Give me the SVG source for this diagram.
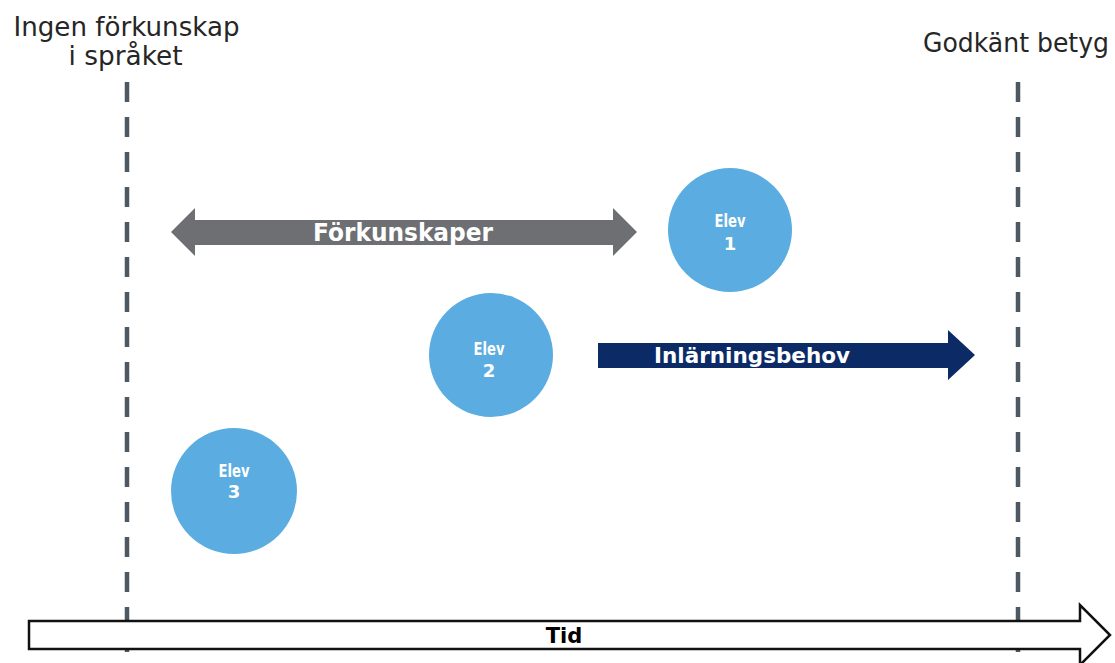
<svg xmlns="http://www.w3.org/2000/svg" width="1115" height="663" viewBox="0 0 1115 663">
<style>
.lbl{font-family:"DejaVu Sans","Liberation Sans",sans-serif;font-size:26px;fill:#262626}
.bold{font-family:"DejaVu Sans","Liberation Sans",sans-serif;font-weight:bold}
.circ{fill:#5badE1}
.elev{font-size:18px;fill:#ffffff}
.dash{stroke:#4e5862;stroke-width:4.5;stroke-dasharray:20 15;fill:none}
</style>
<rect width="1115" height="663" fill="#ffffff"/>
<g id="guides">
<line class="dash" x1="127" y1="82" x2="127" y2="652"/>
<line class="dash" x1="1018" y1="82" x2="1018" y2="652"/>
</g>
<g id="label-start">
<text class="lbl" x="126.5" y="36" text-anchor="middle" textLength="226" lengthAdjust="spacingAndGlyphs">Ingen förkunskap</text>
<text class="lbl" x="125.5" y="65" text-anchor="middle" textLength="114" lengthAdjust="spacingAndGlyphs">i språket</text>
</g>
<g id="label-end">
<text class="lbl" x="1016" y="52" text-anchor="middle" textLength="186" lengthAdjust="spacingAndGlyphs">Godkänt betyg</text>
</g>
<g id="connectors">
<g id="forkunskaper">
<polygon points="171,232 195,208 195,220 613,220 613,208 637,232 613,256 613,245 195,245 195,256" fill="#6d6f72"/>
<text class="bold" x="403" y="241" text-anchor="middle" font-size="24" fill="#ffffff" textLength="180" lengthAdjust="spacingAndGlyphs">Förkunskaper</text>
</g>
<g id="inlarningsbehov">
<polygon points="598,343 948,343 948,330 975,355 948,380 948,368 598,368" fill="#0b2a66"/>
<text class="bold" x="752" y="363" text-anchor="middle" font-size="21" fill="#ffffff" textLength="196" lengthAdjust="spacingAndGlyphs">Inlärningsbehov</text>
</g>
<g id="tid">
<polygon points="29,621 1080,621 1080,605 1110,635 1080,665 1080,649 29,649" fill="#ffffff" stroke="#111111" stroke-width="2.5"/>
<text class="bold" x="564" y="643" text-anchor="middle" font-size="21" fill="#000000">Tid</text>
</g>
</g>
<g id="elev1">
<circle class="circ" cx="730" cy="230" r="62"/>
<text class="bold elev" x="730" y="227" text-anchor="middle" textLength="31" lengthAdjust="spacingAndGlyphs">Elev</text>
<text class="bold elev" x="730" y="250" text-anchor="middle">1</text>
</g>
<g id="elev2">
<circle class="circ" cx="491" cy="355" r="62"/>
<text class="bold elev" x="489" y="355" text-anchor="middle" textLength="31" lengthAdjust="spacingAndGlyphs">Elev</text>
<text class="bold elev" x="489" y="377" text-anchor="middle">2</text>
</g>
<g id="elev3">
<circle class="circ" cx="234" cy="491" r="63"/>
<text class="bold elev" x="234" y="477" text-anchor="middle" textLength="31" lengthAdjust="spacingAndGlyphs">Elev</text>
<text class="bold elev" x="234" y="498" text-anchor="middle">3</text>
</g>
</svg>
